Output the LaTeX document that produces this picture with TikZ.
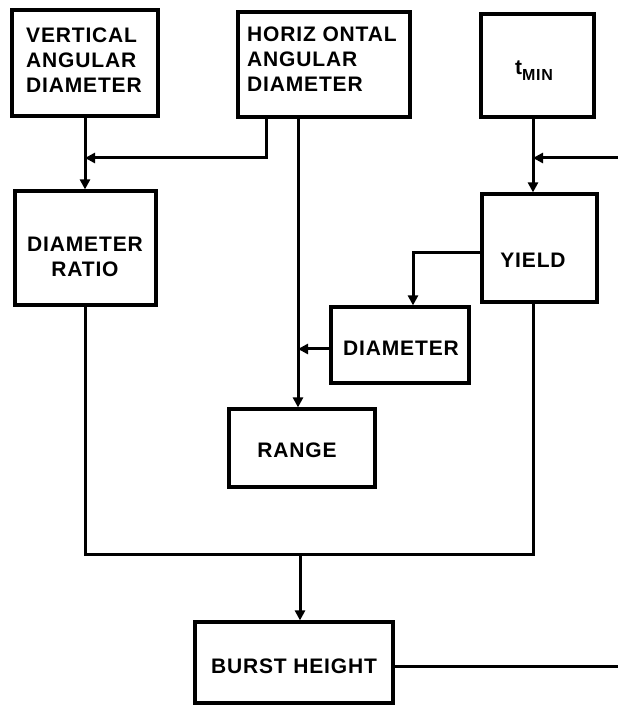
\documentclass[tikz,border=0pt]{standalone}
\usepackage{fontspec}
\setmainfont{Liberation Sans}[LetterSpace=4]
\usetikzlibrary{arrows.meta,calc}
\begin{document}
\begin{tikzpicture}[x=1pt,y=1pt,
  box/.style={draw,line width=3.2pt,inner sep=0pt},
  txt/.style={inner sep=0pt,font=\fontsize{21}{25}\selectfont\bfseries},
  conn/.style={line width=3pt},
  arr/.style={conn,-{Triangle[length=10pt,width=10pt]}}]
\useasboundingbox (0,0) rectangle (618,705);
% boxes
\node[box,minimum width=146,minimum height=106] (vad) at (85,642) {};
\node[txt,align=left,anchor=north west] (vadt) at (26,677) {VERTICAL\\ANGULAR\\DIAMETER};
\node[box,minimum width=172,minimum height=105] (had) at (324,640.5) {};
\node[txt,align=left,anchor=north west] (hadt) at (247,678) {HORIZ ONTAL\\ANGULAR\\DIAMETER};
\node[box,minimum width=113,minimum height=103] (tmin) at (537.5,639.5) {};
\node[txt] (tmint) at (534,634) {t\raisebox{-6pt}{\fontsize{16}{18}\selectfont MIN}};
\node[box,minimum width=141,minimum height=114] (dr) at (85.5,457) {};
\node[txt,align=center] (drt) at (85,448) {DIAMETER\\RATIO};
\node[box,minimum width=115,minimum height=108] (yield) at (539.5,457) {};
\node[txt] (yieldt) at (533,445) {YIELD};
\node[box,minimum width=138,minimum height=76] (diam) at (400,360) {};
\node[txt] (diamt) at (401,357) {DIAMETER};
\node[box,minimum width=146,minimum height=78] (range) at (302,257) {};
\node[txt] (ranget) at (297,255) {RANGE};
\node[box,minimum width=198,minimum height=81] (bh) at (294,42.5) {};
\node[txt] (bht) at (294,39) {BURST HEIGHT};
% helper coordinates
\coordinate (j1) at (85,547);
\coordinate (hx) at (298,0);
\coordinate (tx) at (533,0);
\coordinate (rin) at (618,547);
\coordinate (dj) at (413,452);
\coordinate (bl) at (85,150);
\coordinate (br) at (533,150);
\coordinate (bj) at (300,150);
\coordinate (bout) at (618,38);
% connectors
\draw[arr] (vad.south -| j1) -- (dr.north -| j1);
\draw[arr] ([xshift=-58pt]had.south) |- (j1);
\draw[arr] (had.south -| hx) -- (range.north -| hx);
\draw[arr] ([yshift=-4pt]diam.west) -- ([yshift=-4pt]diam.west -| hx);
\draw[arr] (tmin.south -| tx) -- (yield.north -| tx);
\draw[arr] (rin) -- (rin -| tx);
\draw[arr] (yield.west |- dj) -| (diam.north -| dj);
\draw[conn] (dr.south -| bl) -- (bl) -- (br) -- (yield.south -| br);
\draw[arr] (bj) -- (bh.north -| bj);
\draw[conn] (bh.east |- bout) -- (bout);
\end{tikzpicture}
\end{document}
